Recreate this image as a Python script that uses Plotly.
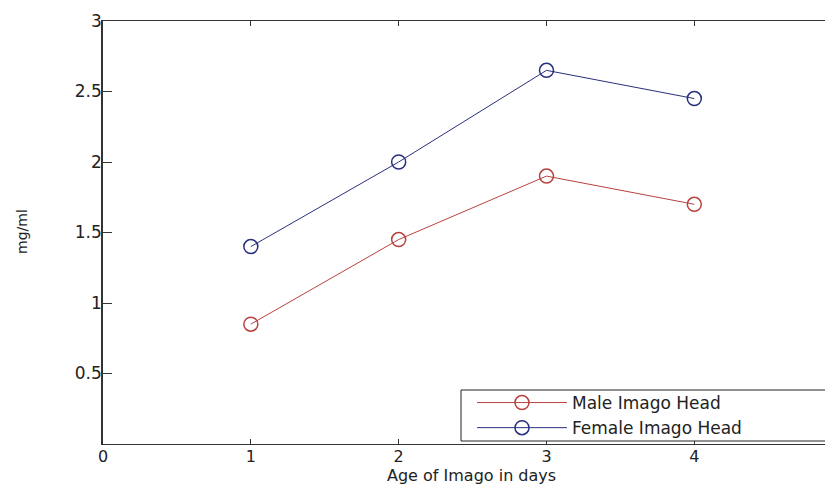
import plotly.graph_objects as go

days = [1, 2, 3, 4]
male_head = [0.85, 1.45, 1.90, 1.70]
female_head = [1.40, 2.00, 2.65, 2.45]
x_ticks = [0, 1, 2, 3, 4]
y_ticks = [0.5, 1, 1.5, 2, 2.5, 3]
y_tick_text = ["0.5", "1", "1.5", "2", "2.5", "3"]

FONT = "DejaVu Sans"
RED = "#b8423f"
BLUE = "#28307e"
INK = "#222"

# figure sits inside the page's 8px body margin; keep it from overflowing
OFF = 8
W, H = 817, 476
L, T, B = 95, 13, 40
PW, PH = W - L, H - T - B
BOT = T + PH  # plot bottom in figure pixels


def px(xp):   # page x -> paper fraction
    return (xp - OFF - L) / PW


def py(yp):   # page y -> paper fraction
    return (BOT - (yp - OFF)) / PH


fig = go.Figure()
fig.add_trace(go.Scatter(
    x=days, y=male_head, mode="lines+markers", name="Male Imago Head",
    line=dict(color=RED, width=1),
    marker=dict(symbol="circle-open", size=14, color=RED, line=dict(width=1.5, color=RED)),
))
fig.add_trace(go.Scatter(
    x=days, y=female_head, mode="lines+markers", name="Female Imago Head",
    line=dict(color=BLUE, width=1),
    marker=dict(symbol="circle-open", size=14, color=BLUE, line=dict(width=1.5, color=BLUE)),
))

# legend frame, open on the right (it runs off the edge in the reference)
lx0, lx1, ly0, ly1 = px(461), 1.0, py(441), py(390)
fig.add_shape(
    type="path", xref="paper", yref="paper",
    path=f"M {lx1},{ly1} L {lx0},{ly1} L {lx0},{ly0} L {lx1},{ly0}",
    line=dict(color=INK, width=1), fillcolor="white", layer="above",
)

fig.add_annotation(
    text="Age of Imago in days", xref="paper", yref="paper",
    x=px(471), y=py(475), yanchor="middle", xanchor="center",
    showarrow=False, font=dict(family=FONT, size=16, color=INK),
)
fig.add_annotation(
    text="mg/ml", xref="paper", yref="paper", textangle=-90,
    x=px(22), y=py(232), xanchor="center", yanchor="middle",
    showarrow=False, font=dict(family=FONT, size=14, color=INK),
)

fig.update_layout(
    width=W, height=H,
    margin=dict(l=L, r=0, t=T, b=B),
    paper_bgcolor="white", plot_bgcolor="white",
    font=dict(family=FONT, size=17, color=INK),
    showlegend=True,
    legend=dict(
        x=px(472), y=py(385),
        xanchor="left", yanchor="top",
        bgcolor="rgba(0,0,0,0)", borderwidth=0,
        font=dict(family=FONT, size=17, color=INK),
        itemwidth=90, tracegroupgap=0,
    ),
    xaxis=dict(
        range=[0, 4.884], tickvals=x_ticks, ticktext=[str(v) for v in x_ticks],
        showgrid=False, zeroline=False,
        showline=True, linecolor="#333", linewidth=1, mirror="ticks",
        ticks="inside", ticklen=5, tickcolor="#333",
        tickfont=dict(family=FONT, size=16),
        ticklabelstandoff=-2,
    ),
    yaxis=dict(
        range=[0, 3], tickvals=y_ticks, ticktext=y_tick_text,
        showgrid=False, zeroline=False,
        showline=True, linecolor="#333", linewidth=1.5, mirror=False,
        ticks="inside", ticklen=9, tickcolor="#333",
        tickfont=dict(family=FONT, size=17),
        ticklabelstandoff=-4,
    ),
)

fig.write_html("out.html")
